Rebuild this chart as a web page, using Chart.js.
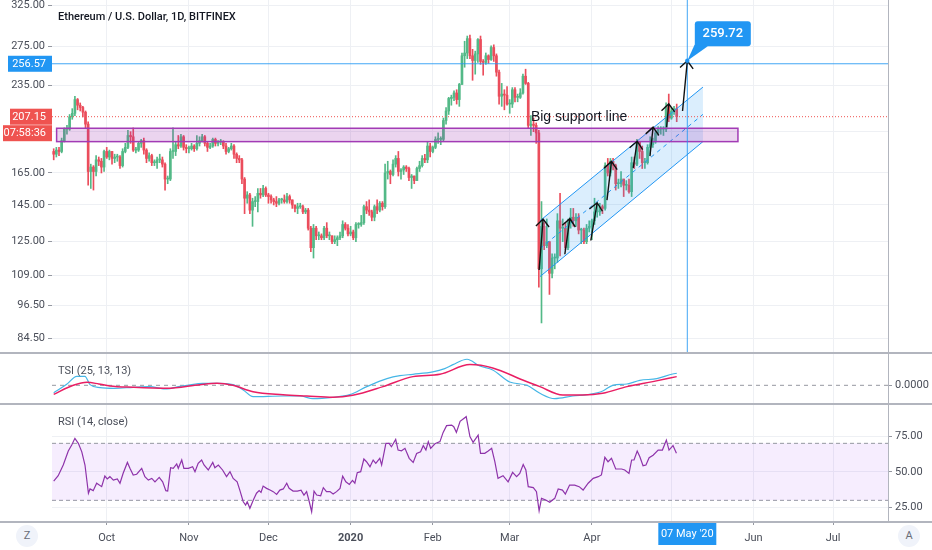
<!DOCTYPE html>
<html>
<head>
<meta charset="utf-8">
<title>Ethereum / U.S. Dollar, 1D, BITFINEX</title>
<script src="https://cdn.jsdelivr.net/npm/chart.js"></script>
<style>
  html, body { margin: 0; padding: 0; background: #fff; }
  #wrap { position: relative; width: 932px; height: 550px; overflow: hidden; font-family: Roboto, "Liberation Sans", sans-serif; }
  #wrap canvas { position: absolute; left: 0; }
  .hline { position: absolute; left: 0; width: 932px; height: 2px; background: #b2b5be; }
  .vline { position: absolute; top: 0; left: 888px; width: 1px; height: 522px; background: #b2b5be; }
  .corner { position: absolute; top: 525px; width: 22px; height: 22px; border-radius: 11px; background: #f0f3fa;
            color: #6a6d78; font-size: 11px; line-height: 22px; text-align: center; }
</style>
</head>
<body>
<div id="wrap">
  <canvas id="main" width="932" height="352" style="top:0"></canvas>
  <canvas id="tsi" width="932" height="49" style="top:354px"></canvas>
  <canvas id="rsi" width="932" height="145" style="top:405px"></canvas>
  <div class="hline" style="top:352px"></div>
  <div class="hline" style="top:403px"></div>
  <div class="hline" style="top:521px"></div>
  <div class="vline"></div>
  <div class="corner" style="left:16px">Z</div>
  <div class="corner" style="left:898px">A</div>
</div>

<script>
// daily candles from 11 Sep 2019 (index 0) to 3 May 2020 (index 235)
// a day opens at the previous close
const firstOpen = 180;
const closes = [
  // Sep
  178,181,180,188,197,197,207,210,222,217,215,211,201,166,169,166,174,173,169,180,
  // Oct
  176,180,175,176,176,170,180,183,192,191,181,181,186,188,181,175,177,172,172,174,174,171,161,161,180,180,185,184,191,183,182,
  // Nov
  182,184,182,186,188,191,186,183,184,189,186,187,187,184,180,182,184,178,175,174,161,149,151,142,147,147,152,151,155,151,
  // Dec
  150,148,147,146,148,148,147,150,148,145,143,144,144,141,142,132,122,132,128,128,127,132,128,128,125,126,127,128,134,132,129,
  // Jan
  130,127,134,134,135,144,142,141,138,144,142,146,144,165,166,164,171,175,166,167,169,168,162,163,160,168,170,175,174,184,180,
  // Feb
  183,189,189,189,204,212,223,224,228,222,236,265,268,284,265,260,267,283,259,258,265,261,274,265,248,225,227,226,218,
  // Mar
  218,231,224,224,228,244,237,200,201,200,194,112,133,123,125,110,117,117,136,132,132,122,135,138,136,138,131,131,125,132,133,
  // Apr
  136,141,141,144,143,170,165,173,170,158,158,161,157,157,153,172,171,187,180,172,172,183,185,187,194,197,197,197,216,206,
  // May
  212,214,207.15
];
const highs = [
  182,183,183,190,198,200,209,214,225,223,219,216,212,203,171,170,177,176,175,181,
  183,181,180,178,178,177,182,186,196,195,198,183,187,189,190,182,179,178,174,176,178,176,172,163,182,198,187,192,193,192,185,
  184,186,185,192,191,193,192,187,186,190,190,188,189,188,186,183,186,185,179,177,175,162,153,152,149,150,155,155,157,156,
  152,151,149,150,149,149,151,152,151,148,145,146,146,145,143,143,133,134,133,130,129,133,135,130,128,128,128,130,136,135,134,
  133,131,135,135,139,145,147,148,142,145,148,147,147,171,173,167,174,177,180,168,170,170,169,164,163,169,173,177,178,187,186,
  184,191,194,191,206,215,224,226,230,231,237,268,281,287,288,272,270,284,287,261,268,266,276,277,267,250,237,231,234,
  222,233,233,227,232,246,251,238,208,206,202,196,147,135,137,125,119,119,140,152,137,135,137,143,143,140,140,132,132,134,136,
  137,149,145,146,145,172,175,175,175,171,161,166,161,160,161,176,176,189,187,184,175,185,191,190,196,199,199,199,219,227,
  215,216,218
];
const lows = [
  174,176,177,179,187,193,196,205,208,213,212,207,198,157,155,154,163,170,165,166,
  175,174,171,172,173,168,169,179,182,186,180,179,180,183,178,172,173,170,170,168,172,169,154,158,160,175,177,182,183,181,179,
  179,181,180,181,184,187,184,180,182,183,184,184,185,182,178,179,181,175,172,172,158,140,146,140,133,144,141,149,150,150,
  146,146,145,144,145,146,146,146,146,143,141,140,143,140,140,131,120,117,126,126,126,126,127,126,124,124,123,126,127,131,128,
  128,126,125,132,133,134,140,139,136,136,140,141,142,143,161,158,163,169,163,161,164,166,160,155,158,160,166,169,172,172,176,
  179,182,186,185,188,201,209,217,221,218,216,236,253,262,262,240,246,258,256,245,256,257,260,259,244,218,216,213,217,
  210,215,220,220,223,227,236,198,192,195,186,104,90,121,122,101,108,112,115,118,125,121,121,132,133,133,129,124,124,124,130,
  126,134,138,139,140,142,163,163,167,154,155,156,150,154,152,150,168,170,175,168,168,171,178,183,186,192,193,192,195,203,
  205,209,203
];

const monthTicks = [20, 51, 81, 112, 143, 172, 203, 233, 264, 294];
const monthLabels = ['Oct', 'Nov', 'Dec', '2020', 'Feb', 'Mar', 'Apr', 'May', 'Jun', 'Jul'];
const priceTicks = [84.5, 96.5, 109, 125, 145, 165, 195, 235, 275, 325];
const rsiTicks = [25, 50, 75];

const tsiDays = [0,4.9,8.7,11.8,13.7,17.5,23,30,36,42.7,47,50.3,56.3,61.5,67.6,71.5,75.2,86.5,92.9,97.8,105.3,111.7,118.1,125.7,130.6,135.5,143,147.5,150.6,155.9,160.7,165.6,172,178.5,183.4,189,195.8,202.2,207.1,210.9,216.2,221.1,227.5,233.5,235];
const tsiValues = [-0.11,0.015,0.135,0.135,0.01,-0.035,-0.045,-0.03,-0.02,-0.055,-0.02,0,0.03,0.03,0.01,-0.07,-0.17,-0.16,-0.16,-0.2,-0.18,-0.14,-0.02,0.10,0.145,0.165,0.2,0.25,0.31,0.39,0.29,0.23,0.05,0,-0.12,-0.2,-0.16,-0.135,-0.085,0,0.02,0.075,0.1,0.17,0.18];
const sigDays = [0,7.4,12.6,17,21.2,29.9,42.7,55.2,61.6,67.6,75.2,86.5,95.5,105.3,112.8,124.2,135.5,145.7,157,165.6,176.9,183.4,192,199.6,207.1,216.2,226,235];
const sigValues = [-0.135,0,0.045,0.02,-0.01,-0.03,-0.045,0.01,0.03,0,-0.095,-0.14,-0.16,-0.18,-0.15,-0.02,0.13,0.165,0.31,0.26,0.08,-0.02,-0.145,-0.145,-0.12,-0.02,0.055,0.13];

// RSI (14, close)
const rsiDays = [0,1.7,3.6,5.5,6.8,8,9.3,10.6,11.8,13.1,13.7,14.9,16.2,18.1,19.3,20.2,21.2,22.5,24,25,26.2,27.8,28.8,30,31.3,33.2,34.4,35.7,37,38.2,39.8,41.1,42.3,43,44.1,45.1,46.4,47,48.3,49.1,50.8,52.4,53.3,54.5,55.8,56.7,58.3,60,60.8,62.1,63.7,65.2,66.5,67.7,69.2,70.2,71.5,72.4,73,74,75.3,76.5,77.5,78.2,79,80.3,81.6,82.8,84.1,85.3,86.6,87.9,88.8,90.3,91.9,93.3,94.4,95.4,96.4,97.3,98.2,99.2,100.7,101.7,102.9,104.2,105.4,106.7,108,109,110.2,111.5,112.7,113.6,114.5,115.8,117,118,119.3,120.5,121.5,123,123.7,125.3,126.5,127.4,129,129.9,131.2,132.5,134.1,135.6,136.9,138.4,139.4,140.4,141.3,142.2,143.8,145.7,146.9,148.2,150.1,150.9,151.9,153.3,155.6,157,158.2,160.1,161,162.6,163.9,165.2,166.4,167.6,169.5,171.4,173.1,174.6,175.8,177.1,178.1,179,180.9,182.1,183.1,184,185.6,187.1,189,190.3,191.9,193,194.6,196.5,198.2,199.7,201.6,203.5,205.4,206.6,207.9,209.1,210.4,212,214.2,215.4,217,218,218.9,220.1,221.1,222.3,223.4,224.6,226.1,228,229.6,231.1,232.1,233.6,234.9];
const rsiValues = [43.5,47.3,54.8,64.6,68.8,73.5,70,64,54.8,35,38,36.8,42,39.6,47,45,46.6,44.2,45,42,49,56.6,52.4,47.8,48.3,52.4,46.6,44.2,45.4,43,46.1,43,36.8,36.5,52.9,52.4,55.5,52.5,58.3,52.4,52.4,53.6,50.1,56,58.3,54.8,51.3,56.6,52.9,54.8,51.3,46.6,50.1,45.4,43,37.2,29,26.7,29,24.4,30.2,35,36.8,35.6,40,38.4,37.2,36.1,34.2,37.2,38,42,38.4,36.5,36.5,37.2,33.7,36.1,29,22,36.5,33.7,33.2,38.9,36.1,36.1,34.4,36.1,38.4,47,43,41.2,44,42,49.4,50.1,59,57.1,53.6,58.3,56,59.5,54.8,70,70,67.6,72.8,65.3,64.8,66.5,59.5,56.6,62.9,64.1,68.4,65.3,71.2,66.5,69.7,71.2,77.7,82.4,82.8,81.7,77.7,85.4,88.7,74.7,70.7,75.8,63,63,64.6,66.5,57.1,45.4,47.3,43,49.6,46.6,48.9,55.2,51.3,39.6,38.9,36.1,22.7,31.4,30.2,28.6,31.4,38,37.2,34.4,40.7,40.7,39.6,37.2,42,45.4,46.6,47.8,60.2,57.1,59.5,52,52,51.3,48.9,58.3,58.3,64.6,60.6,54.3,54.8,59.9,61.7,65.3,65.3,72.3,65.3,68.4,63];

// drawings on the price pane (day index, price)
const zoneDays = [1.1, 258.1];
const zonePrices = [187.3, 197.7];
const channelDays = [183.4, 244.9];
const channelUpper = [136, 233.5];
const channelMid = [121.5, 209.1];
const channelLower = [108.5, 187.3];
const arrowFrom = [[183.1, 111.5], [192.8, 118.8], [202.6, 125.6], [208.7, 147.9], [218.6, 168.4], [224.9, 176.6], [231.2, 198.6], [237.2, 212]];
const arrowTo = [[184.6, 137], [194.7, 137.2], [205, 146.3], [210.4, 172.9], [220.1, 187.6], [226.1, 198.6], [232, 218.2], [239, 259.72]];
const targetDay = 239;      // 07 May '20
const targetPrice = 259.72;
const crossPrice = 256.57;
const lastPrice = 207.15;
const supportText = { day: 180, price: 207, text: 'Big support line' };

const FONT = 'Roboto, "Liberation Sans", sans-serif';
Chart.defaults.font.family = FONT;
Chart.defaults.color = '#4a4e59';

const xMin = -0.64, xMax = 314.7;
const gridColor = '#eef0f4';
const upColor = '#53b987', downColor = '#eb4d5c';
const blue = '#2196f3', red = '#ef5350';

const opens = closes.map((c, i) => i === 0 ? firstOpen : closes[i - 1]);
const candleColors = closes.map((c, i) => c >= opens[i] ? upColor : downColor);
const wickData = closes.map((c, i) => ({ x: i, y: [lows[i], highs[i]] }));
const bodyData = closes.map((c, i) => ({ x: i, y: [Math.min(opens[i], c), Math.max(opens[i], c)] }));
const pts = (xs, ys) => xs.map((x, i) => ({ x: x, y: ys[i] }));

function timeAxis(withLabels) {
  return {
    type: 'linear', min: xMin, max: xMax, offset: false,
    grid: { color: gridColor, offset: false, drawTicks: withLabels, tickLength: 4, tickColor: '#9598a1' },
    border: { display: false },
    ticks: {
      display: withLabels, autoSkip: false, maxRotation: 0, padding: 7, color: '#4a4e59',
      callback: v => monthLabels[monthTicks.indexOf(v)],
      font: c => ({ family: FONT, size: 11, weight: monthLabels[c.index] === '2020' ? 'bold' : 'normal' })
    },
    afterBuildTicks: s => { s.ticks = monthTicks.map(v => ({ value: v })); },
    afterFit: s => { s.height = withLabels ? 29 : 0; s.paddingLeft = 0; s.paddingRight = 0; }
  };
}

function sideAxis(min, max, ticks, fmt) {
  return {
    type: 'linear', position: 'right', min: min, max: max,
    grid: { color: gridColor, tickLength: 4, tickColor: '#9598a1' },
    border: { display: false },
    ticks: { autoSkip: false, padding: 3, font: { size: 11 }, color: '#4a4e59', callback: fmt },
    afterBuildTicks: s => { s.ticks = ticks.map(v => ({ value: v })); },
    afterFit: s => { s.width = 44; s.paddingTop = 0; s.paddingBottom = 0; }
  };
}

function arrow(ctx, x1, y1, x2, y2) {
  const a = Math.atan2(y2 - y1, x2 - x1), L = 10, s = 0.72;
  ctx.beginPath();
  ctx.moveTo(x1, y1);
  ctx.lineTo(x2, y2);
  ctx.moveTo(x2 - L * Math.cos(a - s), y2 - L * Math.sin(a - s));
  ctx.lineTo(x2, y2);
  ctx.lineTo(x2 - L * Math.cos(a + s), y2 - L * Math.sin(a + s));
  ctx.stroke();
}

function tag(ctx, left, right, yc, h, bg, text) {
  ctx.fillStyle = bg;
  ctx.fillRect(left, yc - h / 2, right - left, h);
  ctx.fillStyle = '#fff';
  ctx.font = '11px ' + FONT;
  ctx.textAlign = 'right';
  ctx.textBaseline = 'middle';
  ctx.fillText(text, right - 6, yc + 0.5);
}

const mainDecor = {
  id: 'mainDecor',
  afterDatasetsDraw(chart) {
    const { ctx, chartArea: a, scales: { x, y } } = chart;
    ctx.save();
    ctx.beginPath();
    ctx.rect(a.left, a.top, a.right - a.left, a.bottom - a.top);
    ctx.clip();

    // support zone
    const zx1 = x.getPixelForValue(zoneDays[0]), zx2 = x.getPixelForValue(zoneDays[1]);
    const zy1 = y.getPixelForValue(zonePrices[1]), zy2 = y.getPixelForValue(zonePrices[0]);
    ctx.fillStyle = 'rgba(156,39,176,0.2)';
    ctx.fillRect(zx1, zy1, zx2 - zx1, zy2 - zy1);
    ctx.strokeStyle = '#a23bb5';
    ctx.lineWidth = 1.5;
    ctx.strokeRect(zx1, zy1, zx2 - zx1, zy2 - zy1);

    // last price, dotted
    const ly = y.getPixelForValue(lastPrice);
    ctx.strokeStyle = red;
    ctx.lineWidth = 1;
    ctx.setLineDash([1, 2]);
    ctx.beginPath(); ctx.moveTo(a.left, ly); ctx.lineTo(a.right, ly); ctx.stroke();
    ctx.setLineDash([]);

    // crosshair
    const cx = x.getPixelForValue(targetDay), cy = y.getPixelForValue(crossPrice);
    ctx.strokeStyle = 'rgba(33,150,243,0.85)';
    ctx.beginPath();
    ctx.moveTo(a.left, cy); ctx.lineTo(a.right, cy);
    ctx.moveTo(cx, a.top); ctx.lineTo(cx, a.bottom);
    ctx.stroke();

    // hand drawn arrows
    ctx.strokeStyle = '#111';
    ctx.lineWidth = 1.4;
    arrowFrom.forEach((f, i) => {
      const t = arrowTo[i];
      arrow(ctx, x.getPixelForValue(f[0]), y.getPixelForValue(f[1]), x.getPixelForValue(t[0]), y.getPixelForValue(t[1]));
    });

    ctx.fillStyle = '#131722';
    ctx.font = '14px "Liberation Sans", sans-serif';
    ctx.textAlign = 'left';
    ctx.textBaseline = 'middle';
    ctx.fillText(supportText.text, x.getPixelForValue(supportText.day), y.getPixelForValue(supportText.price));

    // target callout
    const px = x.getPixelForValue(targetDay), py = y.getPixelForValue(targetPrice);
    const bl = px + 7.5, bt = py - 39.5, bw = 56, bh = 25;
    ctx.fillStyle = blue;
    ctx.beginPath();
    ctx.moveTo(px, py); ctx.lineTo(bl, bt + bh - 2); ctx.lineTo(bl + 13, bt + bh); ctx.closePath();
    ctx.fill();
    ctx.beginPath();
    ctx.roundRect(bl, bt, bw, bh, 3);
    ctx.fill();
    ctx.beginPath(); ctx.arc(px, py, 2.2, 0, Math.PI * 2); ctx.fill();
    ctx.fillStyle = '#fff';
    ctx.font = '500 13px ' + FONT;
    ctx.textAlign = 'center';
    ctx.fillText(targetPrice.toFixed(2), bl + bw / 2, bt + bh / 2 + 0.5);
    ctx.restore();
  },
  afterDraw(chart) {
    const { ctx, scales: { y } } = chart;
    ctx.save();
    tag(ctx, 8, 52, y.getPixelForValue(crossPrice), 16, blue, crossPrice.toFixed(2));
    const ly = y.getPixelForValue(lastPrice);
    tag(ctx, 10, 52, ly, 16, red, lastPrice.toFixed(2));
    tag(ctx, 3, 52, ly + 16.5, 16, red, '07:58:36');
    ctx.fillStyle = '#131722';
    ctx.font = '500 11px ' + FONT;
    ctx.textAlign = 'left';
    ctx.textBaseline = 'middle';
    ctx.fillText('Ethereum / U.S. Dollar, 1D, BITFINEX', 58, 17);
    ctx.restore();
  }
};

function paneLabel(text, yPos) {
  return {
    id: 'paneLabel',
    afterDraw(chart) {
      const ctx = chart.ctx;
      ctx.save();
      ctx.fillStyle = '#4a4e59';
      ctx.font = '11px ' + FONT;
      ctx.textAlign = 'left';
      ctx.textBaseline = 'middle';
      ctx.fillText(text, 58, yPos);
      ctx.restore();
    }
  };
}

const dateTag = {
  id: 'dateTag',
  afterDraw(chart) {
    const { ctx, chartArea: a, scales: { x } } = chart;
    const cx = x.getPixelForValue(targetDay);
    ctx.save();
    ctx.fillStyle = blue;
    ctx.fillRect(cx - 29, a.bottom + 1, 58, 23);
    ctx.fillStyle = '#fff';
    ctx.font = '11px ' + FONT;
    ctx.textAlign = 'center';
    ctx.textBaseline = 'middle';
    ctx.fillText("07 May '20", cx, a.bottom + 13);
    ctx.restore();
  }
};

const common = {
  responsive: false,
  animation: false,
  events: [],
  plugins: { legend: { display: false }, tooltip: { enabled: false } }
};

new Chart(document.getElementById('main'), {
  type: 'bar',
  data: {
    datasets: [
      { type: 'line', data: pts(channelDays, channelUpper), borderColor: blue, borderWidth: 1, pointRadius: 0,
        fill: '+1', backgroundColor: 'rgba(33,150,243,0.16)' },
      { type: 'line', data: pts(channelDays, channelLower), borderColor: blue, borderWidth: 1, pointRadius: 0, fill: false },
      { type: 'line', data: pts(channelDays, channelMid), borderColor: blue, borderWidth: 1, borderDash: [4, 4], pointRadius: 0, fill: false },
      { data: bodyData, backgroundColor: candleColors, barThickness: 2, grouped: false, minBarLength: 1 },
      { data: wickData, backgroundColor: candleColors, barThickness: 1, grouped: false }
    ]
  },
  options: Object.assign({}, common, {
    layout: { padding: { left: 0, right: 44, top: 0, bottom: 0 } },
    scales: {
      x: timeAxis(false),
      y: {
        type: 'logarithmic', position: 'left', min: 80.03, max: 332,
        grid: { color: gridColor, tickLength: 4, tickColor: '#9598a1' },
        border: { display: false },
        ticks: { autoSkip: false, padding: 3, font: { size: 11 }, color: '#4a4e59',
                 callback: v => v === 195 ? '' : Number(v).toFixed(2) },
        afterBuildTicks: s => { s.ticks = priceTicks.map(v => ({ value: v })); },
        afterFit: s => { s.width = 52; s.paddingTop = 0; s.paddingBottom = 0; }
      }
    }
  }),
  plugins: [mainDecor]
});

new Chart(document.getElementById('tsi'), {
  type: 'line',
  data: {
    datasets: [
      { data: pts(sigDays, sigValues), borderColor: '#e91e63', borderWidth: 1.5, pointRadius: 0, cubicInterpolationMode: 'monotone' },
      { data: pts(tsiDays, tsiValues), borderColor: '#45b6e6', borderWidth: 1.2, pointRadius: 0, cubicInterpolationMode: 'monotone' },
      { data: [{ x: xMin, y: 0 }, { x: xMax, y: 0 }], borderColor: '#9598a1', borderWidth: 1, borderDash: [4, 4], pointRadius: 0 }
    ]
  },
  options: Object.assign({}, common, {
    layout: { padding: { left: 52, right: 0, top: 0, bottom: 0 } },
    scales: {
      x: timeAxis(false),
      y: Object.assign(sideAxis(-0.265, 0.469, [0], v => Number(v).toFixed(4)), { grid: { drawOnChartArea: false, tickLength: 4, tickColor: '#9598a1' } })
    }
  }),
  plugins: [paneLabel('TSI (25, 13, 13)', 17)]
});

new Chart(document.getElementById('rsi'), {
  type: 'line',
  data: {
    datasets: [
      { data: pts(rsiDays, rsiValues), borderColor: '#8e33aa', borderWidth: 1.2, pointRadius: 0 },
      { data: [{ x: xMin, y: 70 }, { x: xMax, y: 70 }], borderColor: '#9598a1', borderWidth: 1, borderDash: [4, 3], pointRadius: 0,
        fill: '+1', backgroundColor: 'rgba(150,60,240,0.09)' },
      { data: [{ x: xMin, y: 30 }, { x: xMax, y: 30 }], borderColor: '#9598a1', borderWidth: 1, borderDash: [4, 3], pointRadius: 0 }
    ]
  },
  options: Object.assign({}, common, {
    layout: { padding: { left: 52, right: 0, top: 0, bottom: 0 } },
    scales: {
      x: timeAxis(true),
      y: sideAxis(15.5, 96.9, rsiTicks, v => Number(v).toFixed(2))
    }
  }),
  plugins: [paneLabel('RSI (14, close)', 17), dateTag]
});
</script>
</body>
</html>
